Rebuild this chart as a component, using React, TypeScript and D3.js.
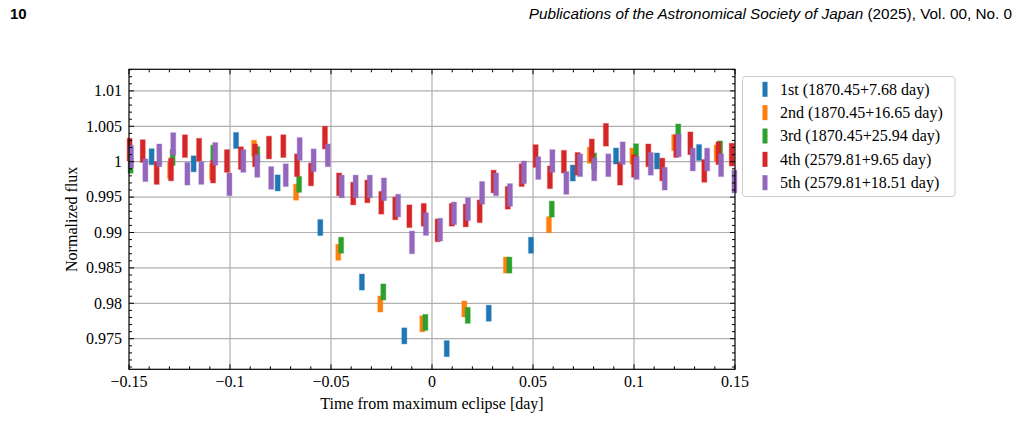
import React, { useRef, useEffect } from 'react';
import * as d3 from 'd3';

// epoch times [day] and normalized flux for each eclipse
const t1st = [-0.1388, -0.1180, -0.0970, -0.0764, -0.0553, -0.0347, -0.0137, 0.0073, 0.0281, 0.0490, 0.0697, 0.0911, 0.1114, 0.1322];
const f1st = [1.0007, 0.9997, 1.0030, 0.9970, 0.9907, 0.9830, 0.9754, 0.9736, 0.9786, 0.9882, 0.9984, 1.0008, 1.0001, 1.0013];

const t2nd = [-0.1297, -0.1089, -0.0881, -0.0673, -0.0464, -0.0256, -0.0048, 0.0160, 0.0366, 0.0579, 0.0781, 0.0992, 0.1199, 0.1409];
const f2nd = [0.9988, 0.9986, 1.0019, 0.9957, 0.9872, 0.9799, 0.9771, 0.9792, 0.9854, 0.9911, 1.0009, 1.0008, 1.0027, 1.0012];

const t3rd = [-0.1492, -0.1284, -0.1083, -0.0865, -0.0658, -0.0450, -0.0241, -0.0033, 0.0177, 0.0383, 0.0593, 0.0802, 0.1010, 0.1219, 0.1426];
const f3rd = [0.9995, 1.0006, 1.0012, 1.0010, 0.9968, 0.9882, 0.9816, 0.9773, 0.9783, 0.9854, 0.9933, 1.0001, 1.0014, 1.0042, 1.0018];

const t4th = [-0.1497, -0.1432, -0.1363, -0.1292, -0.1223, -0.1153, -0.1084, -0.1015, -0.0946, -0.0876, -0.0807, -0.0736, -0.0668, -0.0599, -0.0530, -0.0460, -0.0390, -0.0320, -0.0251, -0.0182, -0.0112, -0.0041, 0.0028, 0.0098, 0.0167, 0.0236, 0.0305, 0.0375, 0.0444, 0.0513, 0.0584, 0.0653, 0.0721, 0.0791, 0.0861, 0.0931, 0.1000, 0.1071, 0.1140, 0.1209, 0.1279, 0.1348, 0.1418, 0.1484];
const f4th = [1.0017, 1.0015, 0.9984, 0.9989, 1.0022, 1.0017, 0.9986, 1.0001, 1.0005, 1.0009, 1.0020, 1.0022, 0.9995, 0.9982, 1.0034, 0.9968, 0.9955, 0.9958, 0.9942, 0.9934, 0.9923, 0.9925, 0.9903, 0.9925, 0.9924, 0.9930, 0.9972, 0.9949, 0.9981, 1.0008, 0.9978, 1.0000, 0.9997, 1.0016, 1.0038, 0.9983, 0.9994, 1.0009, 0.9989, 1.0022, 1.0026, 0.9987, 1.0012, 1.0010];

const t5th = [-0.1490, -0.1419, -0.1350, -0.1281, -0.1211, -0.1142, -0.1073, -0.1003, -0.0934, -0.0865, -0.0796, -0.0724, -0.0655, -0.0586, -0.0516, -0.0447, -0.0378, -0.0308, -0.0238, -0.0168, -0.0099, -0.0030, 0.0040, 0.0109, 0.0178, 0.0248, 0.0317, 0.0386, 0.0455, 0.0526, 0.0596, 0.0665, 0.0733, 0.0803, 0.0873, 0.0944, 0.1013, 0.1083, 0.1152, 0.1221, 0.1291, 0.1362, 0.1431, 0.1497];
const f5th = [1.0007, 0.9988, 1.0009, 1.0025, 0.9983, 0.9984, 1.0011, 0.9968, 1.0001, 0.9994, 0.9977, 0.9981, 1.0018, 1.0002, 1.0009, 0.9965, 0.9965, 0.9965, 0.9961, 0.9938, 0.9886, 0.9912, 0.9904, 0.9927, 0.9933, 0.9956, 0.9968, 0.9953, 0.9985, 0.9991, 1.0001, 0.9970, 0.9995, 0.9989, 0.9995, 1.0012, 0.9991, 0.9997, 0.9976, 1.0023, 1.0003, 1.0003, 0.9995, 0.9972];

// photometric errors (half height of each bar)
const errors = [0.00113, 0.00113, 0.00113, 0.0016, 0.0016];

const labels = [
  '1st (1870.45+7.68 day)',
  '2nd (1870.45+16.65 day)',
  '3rd (1870.45+25.94 day)',
  '4th (2579.81+9.65 day)',
  '5th (2579.81+18.51 day)',
];
const colors = ['#1f77b4', '#ff7f0e', '#2ca02c', '#d62728', '#9467bd'];

const xTicks = [-0.15, -0.1, -0.05, 0, 0.05, 0.1, 0.15];
const yTicks = [0.975, 0.98, 0.985, 0.99, 0.995, 1, 1.005, 1.01];

const series = [
  { t: t1st, f: f1st },
  { t: t2nd, f: f2nd },
  { t: t3rd, f: f3rd },
  { t: t4th, f: f4th },
  { t: t5th, f: f5th },
];

const App = () => {
  const svgRef = useRef<SVGSVGElement>(null);

  useEffect(() => {
    const svg = d3.select(svgRef.current);
    svg.selectAll('*').remove();

    const left = 129, right = 735, top = 69.3, bottom = 369.3;
    const serif = 'Liberation Serif, Times New Roman, serif';
    const fs = 16;

    const x = d3.scaleLinear().domain([-0.15, 0.15]).range([left, right]);
    const y = d3.scaleLinear().domain([0.97068, 1.01305]).range([bottom, top]);

    svg.append('rect').attr('width', 1021).attr('height', 437).attr('fill', '#fff');

    // page header
    svg.append('text')
      .attr('x', 10).attr('y', 19)
      .attr('font-family', 'Liberation Sans, Arial, sans-serif')
      .attr('font-weight', 'bold').attr('font-size', 15)
      .text('10');
    const head = svg.append('text')
      .attr('x', 1012).attr('y', 19)
      .attr('text-anchor', 'end')
      .attr('font-family', 'Liberation Sans, Arial, sans-serif')
      .attr('font-size', 15.3);
    head.append('tspan').attr('font-style', 'italic').text('Publications of the Astronomical Society of Japan');
    head.append('tspan').text(' (2025), Vol. 00, No. 0');

    // grid
    const grid = svg.append('g').attr('stroke', '#b0b0b0').attr('stroke-width', 1.2);
    xTicks.slice(1, -1).forEach(v => {
      grid.append('line').attr('x1', x(v)).attr('x2', x(v)).attr('y1', top).attr('y2', bottom);
    });
    yTicks.forEach(v => {
      grid.append('line').attr('x1', left).attr('x2', right).attr('y1', y(v)).attr('y2', y(v));
    });

    // error bars
    const plot = svg.append('g');
    series.forEach((s, i) => {
      const err = errors[i];
      plot.selectAll(null)
        .data(s.t.map((t, k) => ({ t, f: s.f[k] })))
        .enter().append('rect')
        .attr('x', d => x(d.t) - 2.5)
        .attr('width', 5)
        .attr('y', d => y(d.f + err))
        .attr('height', d => y(d.f - err) - y(d.f + err))
        .attr('fill', colors[i])
        .attr('stroke', colors[i])
        .attr('stroke-opacity', 0.3)
        .attr('stroke-width', 1.2);
    });

    // frame and inward ticks on all sides
    const axes = svg.append('g').attr('stroke', '#000');
    const xMinor = d3.range(-15, 16).map(v => v / 100);
    const yMinor = d3.range(971, 1014).map(v => v / 1000);
    xMinor.forEach(v => {
      const major = xTicks.some(m => Math.abs(m - v) < 1e-9);
      const len = major ? 5 : 3;
      axes.append('line').attr('x1', x(v)).attr('x2', x(v)).attr('y1', bottom).attr('y2', bottom - len).attr('stroke-width', 1);
      axes.append('line').attr('x1', x(v)).attr('x2', x(v)).attr('y1', top).attr('y2', top + len).attr('stroke-width', 1);
    });
    yMinor.forEach(v => {
      const major = yTicks.some(m => Math.abs(m - v) < 1e-9);
      const len = major ? 5 : 3;
      axes.append('line').attr('x1', left).attr('x2', left + len).attr('y1', y(v)).attr('y2', y(v)).attr('stroke-width', 1);
      axes.append('line').attr('x1', right).attr('x2', right - len).attr('y1', y(v)).attr('y2', y(v)).attr('stroke-width', 1);
    });
    axes.append('rect')
      .attr('x', left).attr('y', top)
      .attr('width', right - left).attr('height', bottom - top)
      .attr('fill', 'none').attr('stroke-width', 1.2);

    // tick labels
    svg.append('g').selectAll('text').data(xTicks).enter().append('text')
      .attr('x', d => x(d)).attr('y', 386.5)
      .attr('text-anchor', 'middle')
      .attr('font-family', serif).attr('font-size', fs)
      .text(d => d3.format('')(d));
    svg.append('g').selectAll('text').data(yTicks).enter().append('text')
      .attr('x', 122).attr('y', d => y(d)).attr('dy', '0.33em')
      .attr('text-anchor', 'end')
      .attr('font-family', serif).attr('font-size', fs)
      .text(d => d3.format('')(d));

    // axis titles
    svg.append('text')
      .attr('x', (left + right) / 2).attr('y', 409)
      .attr('text-anchor', 'middle')
      .attr('font-family', serif).attr('font-size', fs)
      .text('Time from maximum eclipse [day]');
    svg.append('text')
      .attr('transform', `translate(77,${(top + bottom) / 2}) rotate(-90)`)
      .attr('text-anchor', 'middle')
      .attr('font-family', serif).attr('font-size', fs)
      .text('Normalized flux');

    // legend
    const legend = svg.append('g');
    legend.append('rect')
      .attr('x', 742.5).attr('y', 76.5).attr('width', 212.5).attr('height', 120)
      .attr('rx', 3).attr('fill', '#fff').attr('stroke', '#cccccc');
    labels.forEach((lab, i) => {
      const cy = 89.3 + i * 23.35;
      legend.append('rect')
        .attr('x', 762.5).attr('y', cy - 7.5).attr('width', 5).attr('height', 15)
        .attr('fill', colors[i]);
      legend.append('text')
        .attr('x', 780).attr('y', cy).attr('dy', '0.33em')
        .attr('font-family', serif).attr('font-size', fs)
        .text(lab);
    });
  }, []);

  return (
    <svg ref={svgRef} width={1021} height={437}
      style={{ position: 'absolute', left: 0, top: 0 }} />
  );
};

export default App;
